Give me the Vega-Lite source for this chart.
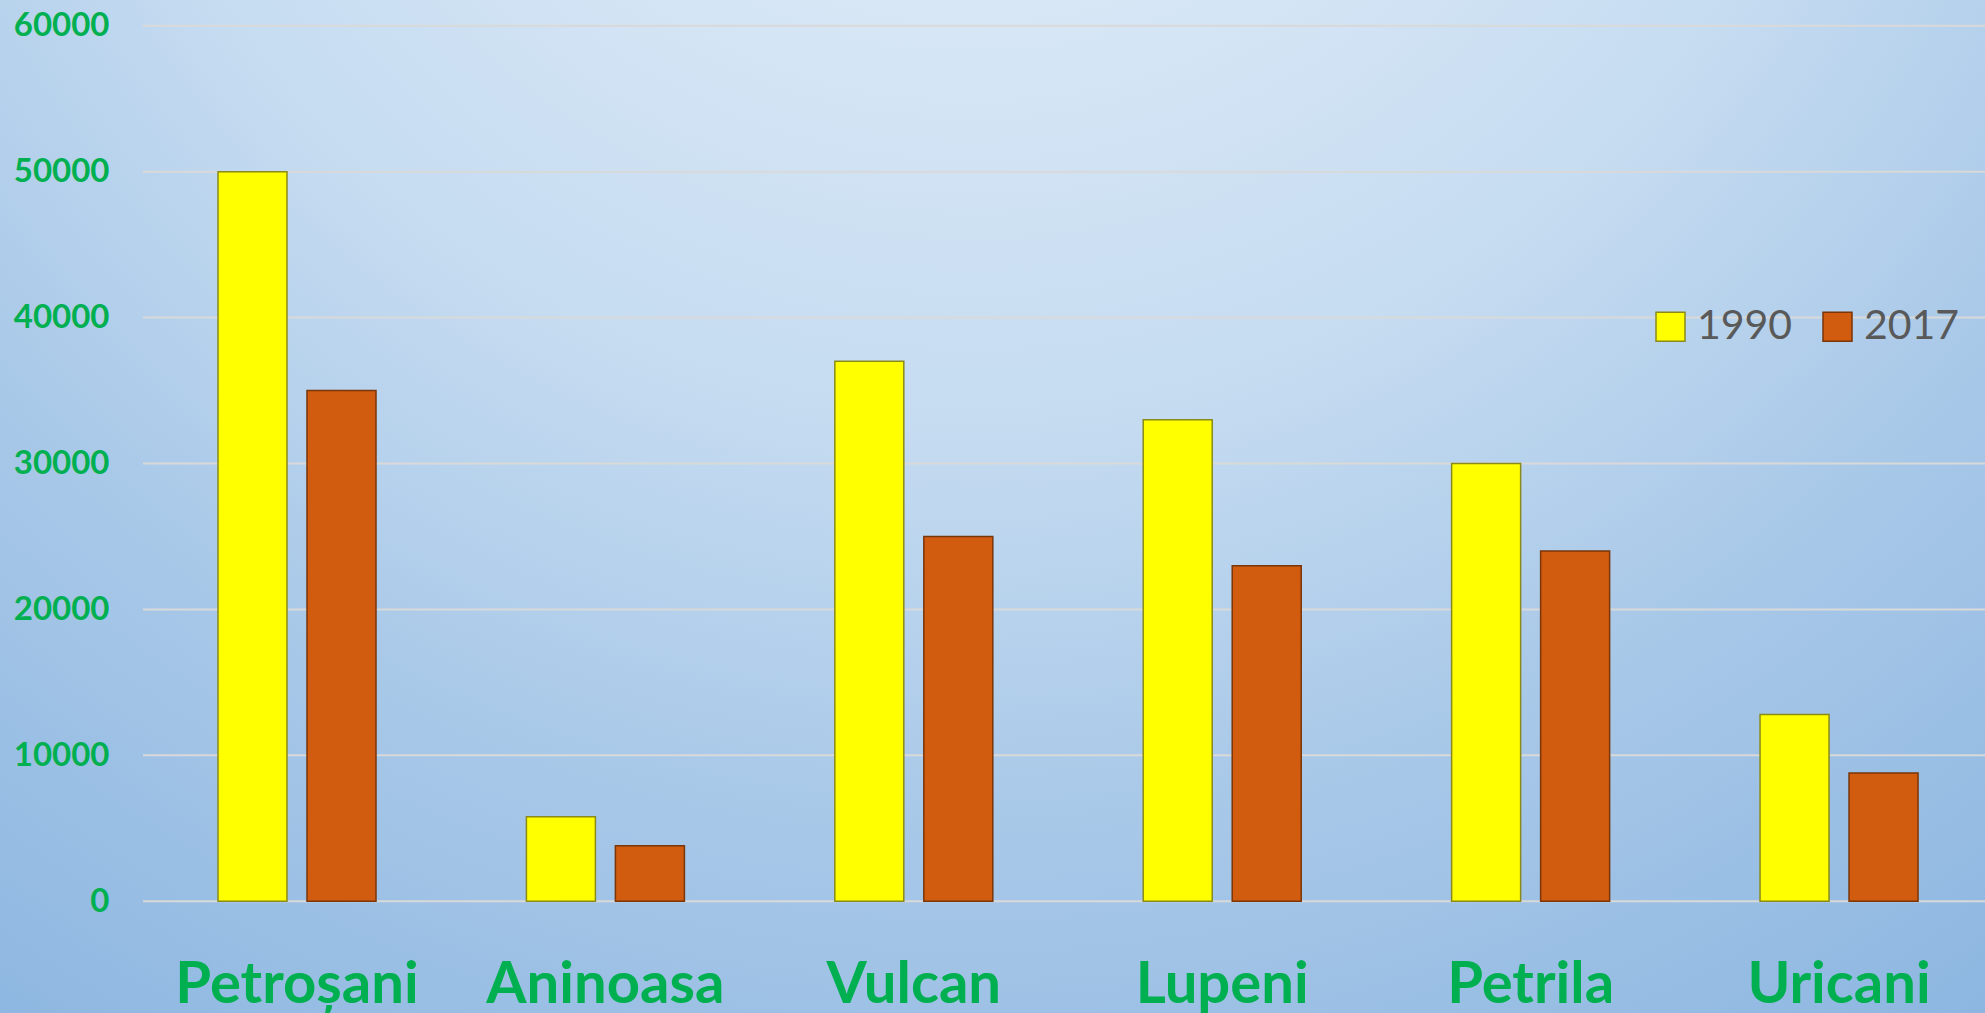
{
  "$schema": "https://vega.github.io/schema/vega-lite/v6.json",
  "width": 1985,
  "height": 1013,
  "padding": 0,
  "autosize": {"type": "none"},
  "background": "#a6c6e7",
  "config": {
    "font": "Lato",
    "view": {
      "stroke": null,
      "fill": {
        "gradient": "radial",
        "x1": 0.49, "y1": 0, "r1": 0,
        "x2": 0.49, "y2": 0, "r2": 1.1,
        "stops": [
          {"offset": 0, "color": "#ecf4fb"},
          {"offset": 0.41, "color": "#c6dcf1"},
          {"offset": 0.6, "color": "#a8c8e8"},
          {"offset": 1, "color": "#78a9db"}
        ]
      }
    },
    "axisY": {
      "domain": false, "ticks": false, "grid": false,
      "labelFont": "Lato", "labelFontWeight": "bold", "labelFontSize": 33,
      "labelColor": "#00b050", "labelAlign": "right", "labelBaseline": "middle",
      "labelPadding": -109, "title": null
    },
    "axisX": {
      "domain": false, "ticks": false, "grid": false,
      "labelFont": "Lato", "labelFontWeight": "bold", "labelFontSize": 58,
      "labelColor": "#00b050", "labelBaseline": "alphabetic", "labelAngle": 0,
      "labelPadding": -11, "labelLimit": 0, "title": null
    },
    "legend": {
      "orient": "none", "legendX": 1650, "legendY": 306, "direction": "horizontal",
      "padding": 0, "labelFont": "Lato", "labelFontSize": 41, "labelColor": "#595959",
      "symbolType": "square", "symbolSize": 841, "symbolStrokeWidth": 1.5,
      "labelOffset": 6, "columnPadding": 24, "title": null
    }
  },
  "datasets": {
    "pop": [
      {"city": "Petroșani", "year": "1990", "value": 50000},
      {"city": "Petroșani", "year": "2017", "value": 35000},
      {"city": "Aninoasa", "year": "1990", "value": 5800},
      {"city": "Aninoasa", "year": "2017", "value": 3800},
      {"city": "Vulcan", "year": "1990", "value": 37000},
      {"city": "Vulcan", "year": "2017", "value": 25000},
      {"city": "Lupeni", "year": "1990", "value": 33000},
      {"city": "Lupeni", "year": "2017", "value": 23000},
      {"city": "Petrila", "year": "1990", "value": 30000},
      {"city": "Petrila", "year": "2017", "value": 24000},
      {"city": "Uricani", "year": "1990", "value": 12800},
      {"city": "Uricani", "year": "2017", "value": 8800}
    ],
    "grid": [
      {"v": 0}, {"v": 10000}, {"v": 20000}, {"v": 30000}, {"v": 40000}, {"v": 50000}, {"v": 60000}
    ]
  },
  "layer": [
    {
      "data": {"name": "grid"},
      "mark": {"type": "rule", "color": "#d9d9d9", "strokeWidth": 2},
      "encoding": {
        "y": {"field": "v", "type": "quantitative", "title": null,
              "scale": {"domain": [-7654, 61761], "nice": false, "zero": false},
              "axis": {"values": [0, 10000, 20000, 30000, 40000, 50000, 60000], "format": "d"}},
        "x": {"datum": "Petroșani", "type": "nominal", "bandPosition": -0.4747},
        "x2": {"value": "width"}
      }
    },
    {
      "data": {"name": "pop"},
      "mark": {"type": "bar", "strokeWidth": 1.5},
      "encoding": {
        "x": {"field": "city", "type": "nominal", "sort": null, "title": null,
              "scale": {"domain": ["Petroșani", "Aninoasa", "Vulcan", "Lupeni", "Petrila", "Uricani"],
                        "paddingInner": 0.4877, "paddingOuter": 0.462, "align": 0.765}},
        "xOffset": {"field": "year", "type": "nominal",
                    "scale": {"paddingInner": 0.2247, "paddingOuter": 0}},
        "y": {"field": "value", "type": "quantitative", "title": null,
              "scale": {"domain": [-7654, 61761], "nice": false, "zero": false},
              "axis": {"values": [0, 10000, 20000, 30000, 40000, 50000, 60000], "format": "d"}},
        "color": {"field": "year", "type": "nominal",
                  "scale": {"domain": ["1990", "2017"], "range": ["#ffff00", "#d15c0f"]}},
        "stroke": {"field": "year", "type": "nominal",
                   "scale": {"domain": ["1990", "2017"], "range": ["#8a8a1a", "#7a3508"]}}
      }
    }
  ]
}
